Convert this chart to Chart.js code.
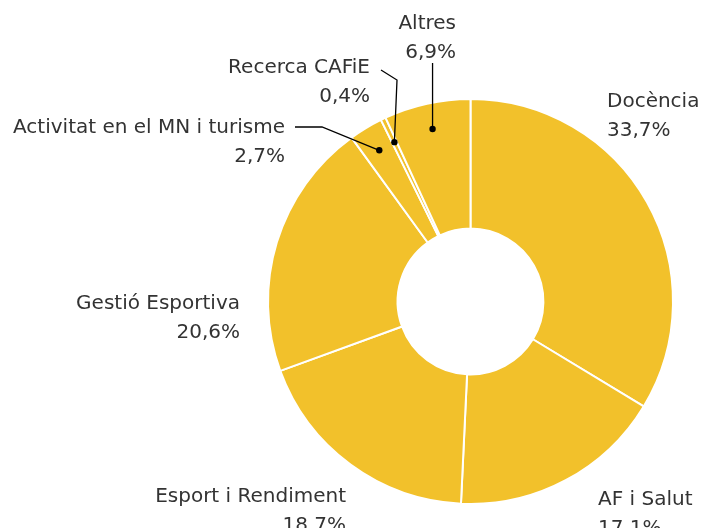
<!DOCTYPE html>
<html>
<head>
<meta charset="utf-8">
<script src="https://cdn.jsdelivr.net/npm/chart.js@4"></script>
<style>
  html, body { margin: 0; padding: 0; background: #fff; }
  #wrap { width: 703px; height: 528px; position: relative; }
</style>
</head>
<body>
<div id="wrap"><canvas id="chartSortides"></canvas></div>
<script>
// sortides professionals, % per àmbit
const labels = ['Docència', 'AF i Salut', 'Esport i Rendiment', 'Gestió Esportiva',
  'Activitat en el MN i turisme', 'Recerca CAFiE', 'Altres'];
const values = [33.7, 17.1, 18.7, 20.6, 2.7, 0.4, 6.9];

// where each label goes: anchor x, baseline of name, alignment, leader elbows (null = no leader)
const labelX = [607, 598, 346, 240, 285, 370, 456];
const labelY = [106.7, 504.7, 502, 309.3, 132.7, 72.7, 28.5];
const labelAlign = ['left', 'left', 'right', 'right', 'right', 'right', 'right'];
const leaders = [null, null, null, null, [[322, 127], [295, 127]], [[397, 80], [381, 70]], [[null, 63]]];

const YELLOW = '#F2C12B';
const TEXT = '#333333';
const LINE_GAP = 29;

const fmt = v => v.toFixed(1).replace('.', ',') + '%';

const labelPlugin = {
  id: 'outerLabels',
  afterDraw(chart) {
    const ctx = chart.ctx;
    const arcs = chart.getDatasetMeta(0).data;
    ctx.save();
    ctx.font = '400 20px "DejaVu Sans"';
    ctx.fillStyle = TEXT;
    ctx.textBaseline = 'alphabetic';
    labels.forEach((name, i) => {
      ctx.textAlign = labelAlign[i];
      ctx.fillText(name, labelX[i], labelY[i]);
      ctx.fillText(fmt(values[i]), labelX[i], labelY[i] + LINE_GAP);

      if (!leaders[i]) return;
      const a = arcs[i];
      const mid = (a.startAngle + a.endAngle) / 2;
      const r = a.innerRadius + 0.8 * (a.outerRadius - a.innerRadius);
      const dx = a.x + Math.cos(mid) * r;
      const dy = a.y + Math.sin(mid) * r;

      ctx.strokeStyle = '#000';
      ctx.lineWidth = 1.3;
      ctx.beginPath();
      ctx.moveTo(dx, dy);
      leaders[i].forEach(p => ctx.lineTo(p[0] === null ? dx : p[0], p[1]));
      ctx.stroke();

      ctx.fillStyle = '#000';
      ctx.beginPath();
      ctx.arc(dx, dy, 3.2, 0, Math.PI * 2);
      ctx.fill();
      ctx.fillStyle = TEXT;
    });
    ctx.restore();
  }
};

new Chart(document.getElementById('chartSortides'), {
  type: 'doughnut',
  data: {
    labels: labels,
    datasets: [{
      data: values,
      backgroundColor: YELLOW,
      borderColor: '#ffffff',
      borderWidth: 2
    }]
  },
  options: {
    responsive: true,
    maintainAspectRatio: false,
    animation: false,
    events: [],
    cutout: '36%',
    layout: { padding: { left: 267, right: 29, top: 98, bottom: 23 } },
    plugins: {
      legend: { display: false },
      tooltip: { enabled: false }
    }
  },
  plugins: [labelPlugin]
});
</script>
</body>
</html>
